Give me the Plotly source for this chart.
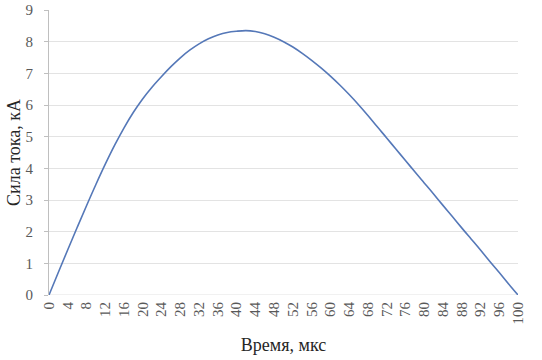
import plotly.graph_objects as go

time_us = list(range(0, 101, 2))
current_ka = [0.00, 0.72, 1.43, 2.13, 2.82, 3.49, 4.13, 4.73, 5.28, 5.77,
              6.20, 6.57, 6.90, 7.21, 7.49, 7.73, 7.93, 8.09, 8.21, 8.29,
              8.33, 8.35, 8.32, 8.25, 8.14, 8.00, 7.83, 7.63, 7.41, 7.17,
              6.91, 6.63, 6.33, 6.01, 5.67, 5.31, 4.96, 4.60, 4.25, 3.89,
              3.54, 3.19, 2.83, 2.48, 2.12, 1.77, 1.42, 1.06, 0.71, 0.35, 0.00]
x_ticks = list(range(0, 101, 4))
y_ticks = list(range(0, 10))

fig = go.Figure()
fig.add_trace(go.Scatter(x=time_us, y=current_ka, mode="lines",
                         line=dict(color="#5578B8", width=1.6, shape="spline"),
                         showlegend=False))

font_family = "Liberation Serif, Times New Roman, serif"
fig.update_layout(
    width=542, height=360,
    margin=dict(l=49, r=24, t=10, b=65),
    paper_bgcolor="white", plot_bgcolor="white",
    font=dict(family=font_family, color="#595959", size=15),
)
fig.update_xaxes(
    range=[0, 100], tickmode="array", tickvals=x_ticks,
    ticktext=[str(v) for v in x_ticks], tickangle=-90,
    showgrid=False, zeroline=False, showline=False, automargin=False,
    ticklabelstandoff=3,
    tickfont=dict(size=15, color="#595959"),
    title=dict(text="Время, мкс", font=dict(size=18, color="#262626"), standoff=14),
)
fig.update_yaxes(
    range=[0, 9], tickmode="array", tickvals=y_ticks,
    showgrid=True, gridcolor="#E3E3E3", gridwidth=1, zeroline=False,
    showline=True, linecolor="#BFBFBF", linewidth=1, automargin=False,
    ticks="outside", ticklen=4, tickcolor="#BFBFBF", ticklabelstandoff=8,
    tickfont=dict(size=15, color="#595959"),
    title=dict(text="Сила тока, кА", font=dict(size=18, color="#262626"), standoff=0),
)
fig.add_shape(type="line", xref="paper", yref="y", x0=0, x1=1, y0=0, y1=0,
              line=dict(color="#E3E3E3", width=1), layer="below")
fig.write_html("out.html", config={"displayModeBar": False},
               post_script="document.body.style.margin='0';document.body.style.overflow='hidden';")
